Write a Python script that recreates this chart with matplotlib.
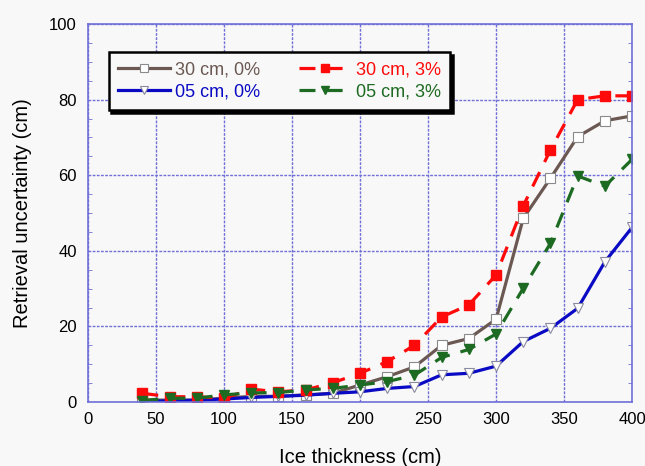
import numpy as np
import matplotlib
matplotlib.use("Agg")
import matplotlib.pyplot as plt
from matplotlib.ticker import MultipleLocator

plt.rcParams['font.family'] = ['Liberation Sans', 'DejaVu Sans']

# ice thickness (cm)
thick = [40, 60, 80, 100, 120, 140, 160, 180, 200, 220, 240, 260, 280, 300, 320, 340, 360, 380, 400]

# retrieval uncertainty (cm)
u30_0 = [0.5, 0.5, 0.5, 1.0, 1.5, 1.5, 1.9, 2.3, 4.5, 6.7, 9.3, 15.0, 16.8, 21.9, 48.6, 59.2, 70.2, 74.4, 75.7]
u05_0 = [0.2, 0.3, 0.5, 0.8, 1.2, 1.5, 1.8, 2.3, 2.7, 3.6, 4.1, 7.2, 7.6, 9.5, 16.0, 19.5, 24.8, 37.1, 46.2]
u30_3 = [2.3, 1.4, 1.4, 1.0, 3.4, 2.7, 3.2, 5.1, 7.6, 10.7, 15.0, 22.5, 25.7, 33.6, 51.9, 66.7, 80.0, 81.0, 81.0]
u05_3 = [0.4, 1.0, 1.0, 1.9, 2.4, 2.5, 3.2, 3.6, 4.5, 5.4, 7.1, 11.8, 13.9, 18.0, 30.1, 42.0, 59.8, 57.1, 64.2]

c_brown = '#6b5853'
c_blue = '#0a0ac4'
c_red = '#ff0a0a'
c_green = '#1d6b22'
c_grid = '#7070d8'

fig = plt.figure(figsize=(6.45, 4.66), dpi=100)
fig.patch.set_facecolor('#f8f8f8')
ax = fig.add_axes([0.1364, 0.1373, 0.8436, 0.8112])
ax.set_facecolor('#f8f8f8')

# order so that ncol=2 gives 0% in column 1, 3% in column 2
ax.plot(thick, u30_0, '-', color=c_brown, lw=2.3, marker='s', ms=6.5,
        mfc='white', mec='#8a8a8a', mew=0.8, label='30 cm, 0%')
ax.plot(thick, u05_0, '-', color=c_blue, lw=2.3, marker='v', ms=6.5,
        mfc='white', mec='#8a8aa0', mew=0.8, label='05 cm, 0%')
ax.plot(thick, u30_3, '--', color=c_red, lw=2.3, marker='s', ms=6.5,
        mfc=c_red, mec=c_red, dashes=(5, 3.5), label='30 cm, 3%')
ax.plot(thick, u05_3, '--', color=c_green, lw=2.3, marker='v', ms=6.5,
        mfc=c_green, mec=c_green, dashes=(5, 3.5), label='05 cm, 3%')

ax.set_xlim(0, 400)
ax.set_ylim(0, 100)
ax.xaxis.set_major_locator(MultipleLocator(50))
ax.yaxis.set_major_locator(MultipleLocator(20))
ax.yaxis.set_minor_locator(MultipleLocator(5))
ax.grid(True, which='major', color=c_grid, ls=(0, (2, 1)), lw=1.0)
ax.set_axisbelow(True)
for s in ax.spines.values():
    s.set_color(c_grid)
    s.set_linewidth(1.2)
ax.tick_params(which='both', direction='in', right=True, color=c_grid, labelsize=12)
ax.tick_params(which='major', length=0)
ax.tick_params(which='minor', length=3)
ax.tick_params(axis='x', pad=7)
ax.tick_params(axis='y', pad=8)

ax.set_xlabel('Ice thickness (cm)', fontsize=14.5, labelpad=15)
ax.set_ylabel('Retrieval uncertainty (cm)', fontsize=14.5, labelpad=12)

leg = ax.legend(ncol=2, loc='upper left', bbox_to_anchor=(0.038, 0.925),
                fontsize=13, frameon=True, fancybox=False,
                shadow={'color': 'black', 'alpha': 1.0}, markerscale=0.8,
                handlelength=2.9, handletextpad=0.3, columnspacing=2.1,
                borderpad=0.5, labelspacing=0.3, borderaxespad=0)
leg.get_frame().set_edgecolor('black')
leg.get_frame().set_linewidth(1.8)
leg.get_frame().set_facecolor('#f8f8f8')
for txt, col in zip(leg.get_texts(), [c_brown, c_blue, c_red, c_green]):
    txt.set_color(col)

fig.savefig('out.png', dpi=100, facecolor=fig.get_facecolor())
